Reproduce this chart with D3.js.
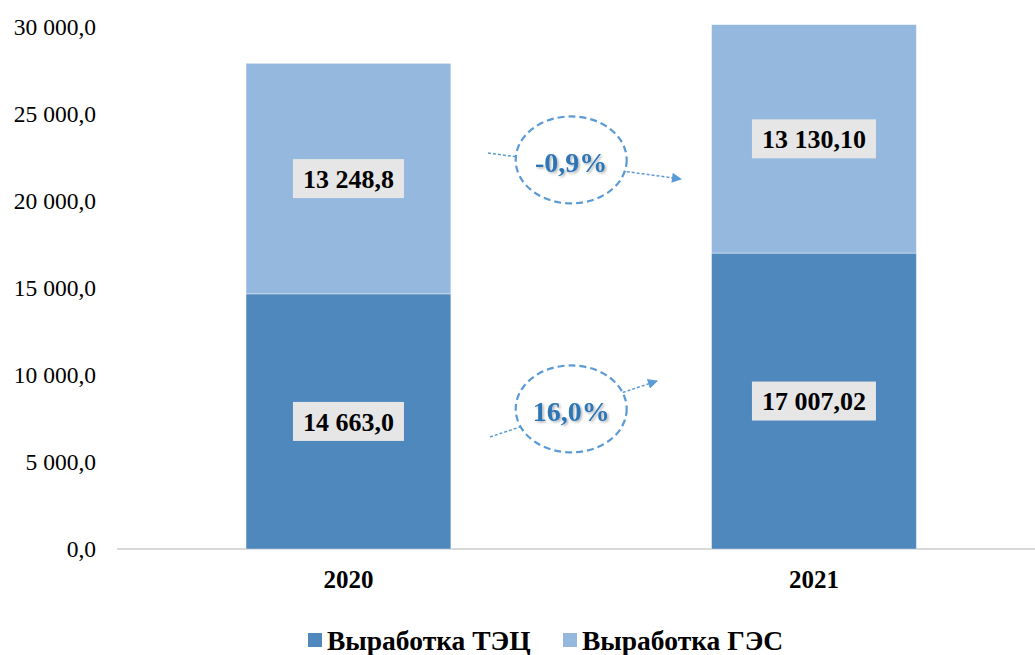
<!DOCTYPE html>
<html><head><meta charset="utf-8">
<script src="https://cdn.jsdelivr.net/npm/d3@7"></script>
<style>
html,body{margin:0;padding:0;background:#fff;}
svg{display:block;}
text{font-family:"Liberation Serif","Times New Roman",Times,serif;}
</style></head>
<body>
<svg id="chart" width="1035" height="655"></svg>
<script>
const years = ["2020", "2021"];
const seriesNames = ["Выработка ТЭЦ", "Выработка ГЭС"];
const tecValues = [14663.0, 17007.02];
const gesValues = [13248.8, 13130.10];
const tecLabels = ["14 663,0", "17 007,02"];
const gesLabels = ["13 248,8", "13 130,10"];
const yTicks = [0, 5000, 10000, 15000, 20000, 25000, 30000];
const yTickLabels = ["0,0", "5 000,0", "10 000,0", "15 000,0", "20 000,0", "25 000,0", "30 000,0"];
const changeLabels = ["16,0%", "-0,9%"];      // ТЭЦ, ГЭС
const changeAnchors = [8050, 22360];           // y-values where the change bubbles sit

const colors = ["#4f88bd", "#95b8df"];

const svg = d3.select("#chart");
const x = d3.scaleBand().domain(years).range([115.7, 1046.7]).paddingInner(0.56).paddingOuter(0.28);
const y = d3.scaleLinear().domain([0, 30000]).range([549, 27]);

// axis line
svg.append("line").attr("x1", 117).attr("x2", 1035).attr("y1", y(0)).attr("y2", y(0))
  .attr("stroke", "#d9d9d9").attr("stroke-width", 2);

// y tick labels
svg.append("g").selectAll("text").data(yTicks).join("text")
  .attr("x", 96).attr("y", d => y(d)).attr("dy", "0.35em")
  .attr("text-anchor", "end").attr("font-size", 23.5).attr("fill", "#000")
  .text((d, i) => yTickLabels[i]);

// stacked data
const stackData = years.map((yr, i) => ({year: yr, tec: tecValues[i], ges: gesValues[i]}));
const stack = d3.stack().keys(["tec", "ges"])(stackData);

stack.forEach((layer, li) => {
  svg.append("g").selectAll("rect").data(layer).join("rect")
    .attr("x", d => x(d.data.year))
    .attr("width", x.bandwidth())
    .attr("y", d => y(d[1]))
    .attr("height", d => y(d[0]) - y(d[1]))
    .attr("fill", colors[li])
    .attr("stroke", "#ffffff").attr("stroke-opacity", 0.5).attr("stroke-width", 0.8);
});

// data labels with gray boxes
const labelSets = [tecLabels, gesLabels];
stack.forEach((layer, li) => {
  layer.forEach((d, i) => {
    const cx = x(d.data.year) + x.bandwidth() / 2;
    const cy = (y(d[0]) + y(d[1])) / 2;
    const g = svg.append("g");
    const rect = g.append("rect").attr("fill", "#e6e6e6");
    const t = g.append("text").attr("x", cx).attr("y", cy).attr("dy", "0.35em")
      .attr("text-anchor", "middle").attr("font-size", 26).attr("font-weight", "bold")
      .attr("fill", "#000").text(labelSets[li][i]);
    const bb = t.node().getBBox();
    rect.attr("x", bb.x - 10).attr("width", bb.width + 20)
      .attr("y", cy - 19.5).attr("height", 39);
  });
});

// x labels
svg.append("g").selectAll("text").data(years).join("text")
  .attr("x", d => x(d) + x.bandwidth() / 2).attr("y", 588)
  .attr("text-anchor", "middle").attr("font-size", 25).attr("font-weight", "bold")
  .attr("fill", "#000").text(d => d);

// arrow marker
const defs = svg.append("defs");
defs.append("marker").attr("id", "arr").attr("viewBox", "0 0 10 10")
  .attr("refX", 9).attr("refY", 5).attr("markerWidth", 11).attr("markerHeight", 10)
  .attr("markerUnits", "userSpaceOnUse").attr("orient", "auto")
  .append("path").attr("d", "M0,0 L10,5 L0,10 Z").attr("fill", "#5b9bd5");
const sh = defs.append("filter").attr("id", "sh").attr("x", "-20%").attr("y", "-20%").attr("width", "140%").attr("height", "140%");
sh.append("feDropShadow").attr("dx", 1.5).attr("dy", 1.5).attr("stdDeviation", 1.2)
  .attr("flood-color", "#000").attr("flood-opacity", 0.3);

// change bubbles
const midX = (x(years[0]) + x.bandwidth() + x(years[1])) / 2;
const arrows = [
  {x1: 490, y1: 437, x2: 657, y2: 381},
  {x1: 488, y1: 153, x2: 681, y2: 179}
];
changeLabels.forEach((lab, i) => {
  const cx = midX - 10, cy = y(changeAnchors[i]);
  const a = arrows[i];
  svg.append("line").attr("x1", a.x1).attr("y1", a.y1).attr("x2", a.x2).attr("y2", a.y2)
    .attr("stroke", "#5b9bd5").attr("stroke-width", 1.5).attr("stroke-dasharray", "3,2")
    .attr("marker-end", "url(#arr)");
  svg.append("ellipse").attr("cx", cx).attr("cy", cy).attr("rx", 55.5).attr("ry", 43.5)
    .attr("fill", "#fff").attr("stroke", "#5b9bd5").attr("stroke-width", 2.2)
    .attr("stroke-dasharray", "7,4");
  svg.append("text").attr("x", cx).attr("y", cy + 2).attr("dy", "0.35em")
    .attr("text-anchor", "middle").attr("font-size", 28).attr("font-weight", "bold")
    .attr("fill", "#2e75b6").attr("filter", "url(#sh)").text(lab);
});

// legend
const legX = [308, 563];
seriesNames.forEach((name, i) => {
  svg.append("rect").attr("x", legX[i]).attr("y", 633).attr("width", 14).attr("height", 14).attr("fill", colors[i]);
  svg.append("text").attr("x", legX[i] + 19).attr("y", 650).attr("font-size", 27.5)
    .attr("font-weight", "bold").attr("fill", "#000").text(name);
});
</script>
</body></html>
